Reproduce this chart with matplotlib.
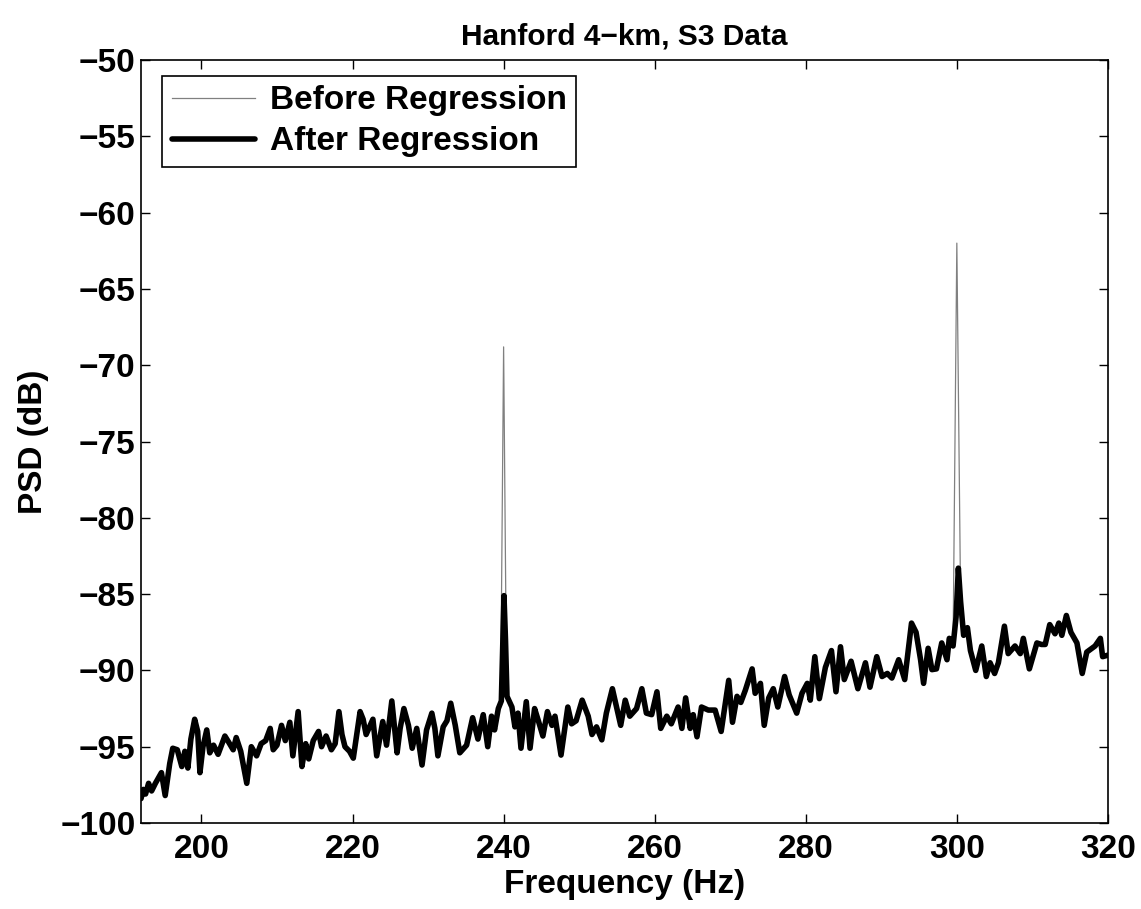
import numpy as np
import matplotlib
matplotlib.use("Agg")
import matplotlib.pyplot as plt

plt.rcParams['font.family'] = ['Liberation Sans', 'DejaVu Sans']
plt.rcParams['font.weight'] = 'bold'

# after-regression PSD (Hz, dB)
freq = [192.0, 192.3, 192.6, 193.0, 193.4, 193.9, 194.7, 195.2, 195.8, 196.2,
        196.8, 197.4, 197.8, 198.2, 198.6, 199.1, 199.5, 199.8, 200.2, 200.7,
        201.1, 201.6, 202.2, 203.1, 203.6, 204.2, 204.6, 205.2, 206.0, 206.6,
        207.3, 207.9, 208.5, 209.1, 209.5, 210.0, 210.6, 211.1, 211.7, 212.1,
        212.8, 213.3, 213.8, 214.2, 214.8, 215.5, 215.9, 216.5, 217.2, 217.7,
        218.2, 218.6, 219.0, 219.6, 220.1, 221.0, 221.4, 221.8, 222.7, 223.2,
        224.0, 224.5, 225.2, 225.9, 226.3, 226.8, 227.4, 227.9, 228.5, 229.2,
        229.8, 230.5, 230.9, 231.3, 232.0, 232.5, 233.0, 233.6, 234.2, 235.1,
        235.9, 236.6, 237.3, 237.9, 238.4, 238.8, 239.3, 239.7, 239.9, 240.05,
        240.25, 240.45, 241.1, 241.5, 241.9, 242.3, 243.0, 243.5, 244.1, 244.6,
        245.2, 245.8, 246.4, 246.8, 247.6, 248.5, 249.0, 249.6, 250.4, 251.2,
        251.7, 252.3, 253.0, 253.6, 254.4, 255.0, 255.5, 256.1, 256.7, 257.6,
        258.3, 258.9, 259.6, 260.3, 260.8, 261.6, 262.2, 263.1, 263.6, 264.1,
        264.7, 265.1, 265.6, 266.2, 267.1, 268.0, 268.8, 269.8, 270.3, 270.9,
        271.4, 272.0, 272.9, 273.3, 274.0, 274.5, 275.1, 275.7, 276.3, 277.2,
        277.8, 278.8, 279.5, 280.2, 280.6, 281.2, 281.8, 282.6, 283.4, 284.0,
        284.6, 285.1, 286.0, 286.9, 287.9, 288.5, 289.4, 290.1, 290.8, 291.4,
        292.3, 293.1, 294.0, 294.6, 295.2, 295.6, 296.2, 296.7, 297.3, 298.0,
        298.7, 299.0, 299.5, 299.9, 300.2, 300.5, 300.9, 301.4, 301.8, 302.5,
        303.3, 303.9, 304.4, 305.0, 305.5, 306.3, 306.8, 307.7, 308.4, 308.8,
        309.6, 310.6, 311.2, 311.7, 312.3, 313.0, 313.5, 313.9, 314.5, 315.1,
        315.9, 316.6, 317.2, 318.3, 319.0, 319.3, 320.0]
after_psd = [-98.4, -97.8, -98.1, -97.4, -97.9, -97.4, -96.7, -98.2, -96.1, -95.1,
             -95.2, -96.3, -95.3, -96.4, -94.5, -93.2, -94.0, -96.7, -95.0, -93.9,
             -95.4, -94.9, -95.5, -94.3, -94.7, -95.2, -94.4, -95.3, -97.4, -95.0,
             -95.6, -94.8, -94.6, -93.8, -95.2, -94.9, -93.6, -94.6, -93.4, -95.6,
             -92.7, -96.3, -94.8, -95.8, -94.6, -94.0, -95.0, -94.3, -95.2, -94.8,
             -92.7, -94.2, -95.0, -95.3, -95.75, -92.7, -93.2, -94.2, -93.2, -95.6,
             -93.35, -94.9, -92.0, -95.4, -93.8, -92.5, -93.6, -95.1, -93.8, -96.2,
             -93.9, -92.8, -93.8, -95.6, -93.7, -93.3, -92.15, -93.6, -95.4, -94.9,
             -93.1, -94.5, -92.9, -95.0, -93.0, -93.9, -92.5, -92.0, -88.0, -85.1,
             -88.0, -91.7, -92.4, -93.7, -92.8, -95.1, -92.05, -95.1, -92.5, -93.3,
             -94.3, -92.7, -93.6, -93.0, -95.55, -92.4, -93.5, -93.3, -91.95, -93.0,
             -94.2, -93.7, -94.55, -92.8, -91.2, -92.5, -93.6, -91.95, -93.0, -92.5,
             -91.2, -92.8, -92.9, -91.4, -93.8, -93.0, -93.5, -92.4, -93.8, -91.8,
             -93.8, -92.9, -94.35, -92.4, -92.6, -92.6, -94.0, -90.65, -93.4, -91.7,
             -92.1, -91.3, -89.9, -91.5, -90.85, -93.6, -91.8, -91.2, -92.4, -90.4,
             -91.6, -92.8, -91.5, -90.85, -91.95, -89.1, -91.85, -89.8, -88.7, -91.4,
             -88.45, -90.6, -89.4, -91.2, -89.5, -91.1, -89.1, -90.4, -90.2, -90.5,
             -89.3, -90.6, -86.9, -87.5, -89.3, -90.85, -88.55, -89.95, -89.9, -88.2,
             -89.3, -87.9, -88.4, -86.5, -83.3, -85.5, -87.7, -87.2, -88.7, -90.0,
             -88.4, -90.4, -89.5, -90.2, -89.5, -87.1, -88.9, -88.4, -88.9, -87.9,
             -89.9, -88.2, -88.3, -88.3, -87.0, -87.6, -86.9, -87.7, -86.4, -87.5,
             -88.2, -90.2, -88.8, -88.4, -87.9, -89.1, -89.0]

# before regression: same floor, plus the two narrow lines
line_freq = [239.6, 240.0, 240.4, 299.5, 300.0, 300.5]
line_psd = [-92.3, -68.8, -91.7, -88.4, -62.0, -85.5]

freq = np.array(freq)
after_psd = np.array(after_psd)
keep = (np.abs(freq - 240.0) > 0.45) & (np.abs(freq - 300.0) > 0.45)
before_freq = np.concatenate([freq[keep], line_freq])
before_psd = np.concatenate([after_psd[keep], line_psd])
order = np.argsort(before_freq)
before_freq = before_freq[order]
before_psd = before_psd[order]

fig = plt.figure(figsize=(11.41, 9.09), dpi=100)
ax = fig.add_axes([0.1236, 0.0946, 0.8474, 0.8394])

ax.plot(before_freq, before_psd, color='0.5', lw=0.9, label='Before Regression')
ax.plot(freq, after_psd, color='black', lw=4.0, solid_joinstyle='round',
        solid_capstyle='round', label='After Regression')

ax.set_xlim(192, 320)
ax.set_ylim(-100, -50)
ax.set_xticks(np.arange(200, 321, 20))
ax.set_yticks(np.arange(-100, -49, 5))
ax.tick_params(direction='in', length=6.5, width=1, top=True, right=True,
               labelsize=24)
ax.tick_params(axis='y', pad=4)
ax.tick_params(axis='x', pad=8)
for lab in ax.get_xticklabels() + ax.get_yticklabels():
    lab.set_fontweight('bold')
for sp in ax.spines.values():
    sp.set_linewidth(1.2)

ax.set_xlabel('Frequency (Hz)', fontsize=24, fontweight='bold', labelpad=3)
ax.set_ylabel('PSD (dB)', fontsize=24, fontweight='bold', labelpad=8)
ax.set_title('Hanford 4\u2212km, S3 Data', fontsize=21.5, fontweight='bold', pad=11)

leg = ax.legend(loc='upper left', bbox_to_anchor=(0.022, 0.979), fontsize=24,
                handlelength=2.5, handletextpad=0.45, labelspacing=0.3,
                borderaxespad=0, borderpad=0.28, fancybox=False, framealpha=1)
leg.get_frame().set_edgecolor('black')
leg.get_frame().set_linewidth(1.2)
for t in leg.get_texts():
    t.set_fontweight('bold')

fig.savefig('out.png', dpi=100)
